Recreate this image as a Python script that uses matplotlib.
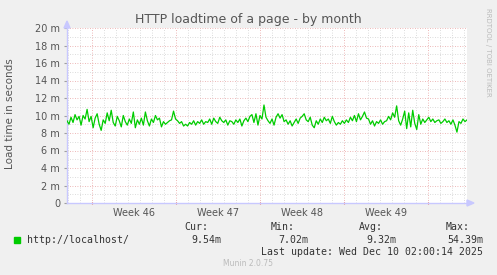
import numpy as np
import matplotlib
matplotlib.use("Agg")
import matplotlib.pyplot as plt
from matplotlib.ticker import FixedLocator
from matplotlib.transforms import blended_transform_factory

# load time in milliseconds, one value roughly every 2 px of the graph
load_ms = [
    9.4, 9.0, 9.8, 9.2, 10.1, 9.5, 9.9, 8.9, 10.0, 9.6,
    10.7, 9.3, 9.9, 8.6, 9.7, 10.2, 9.0, 8.3, 9.5, 9.1,
    10.3, 9.4, 10.6, 9.2, 8.8, 9.9, 9.4, 8.7, 10.0, 9.3,
    8.9, 9.6, 9.1, 10.4, 8.6, 9.5, 9.0, 9.7, 8.9, 10.4,
    9.4, 8.8, 9.6, 9.2, 10.0, 9.5, 9.7, 8.7, 9.3, 9.0,
    9.2, 9.4, 9.5, 10.5, 9.6, 9.4, 9.1, 9.3, 8.8, 9.0,
    8.8, 9.2, 9.0, 9.4, 8.9, 9.3, 9.1, 9.5, 9.0, 9.3,
    9.2, 9.6, 9.0, 9.7, 9.3, 9.1, 9.8, 9.4, 9.2, 9.5,
    8.9, 9.4, 9.3, 9.0, 9.5, 9.2, 9.6, 8.8, 9.4, 9.7,
    9.3, 9.9, 10.1, 9.2, 10.2, 8.9, 10.0, 9.6, 11.2, 9.8,
    9.4, 9.1, 9.6, 8.9, 9.8, 10.2, 9.7, 10.1, 9.3, 9.5,
    9.0, 9.4, 8.8, 9.2, 9.6, 9.1, 9.7, 9.9, 10.2, 9.5,
    9.3, 9.8, 8.9, 8.6, 9.4, 9.0, 9.6, 9.2, 9.8, 9.4,
    9.6, 9.1, 9.9, 9.3, 8.9, 9.2, 9.0, 9.4, 9.1, 9.5,
    9.2, 9.8, 9.4, 10.0, 9.3, 10.2, 9.5, 9.9, 10.4, 9.7,
    9.6, 9.0, 9.4, 8.8, 9.3, 9.1, 9.5, 9.0, 9.3, 9.4,
    9.9, 9.5, 10.3, 9.8, 11.1, 9.4, 8.9, 9.6, 10.5, 8.5,
    10.3, 8.7, 10.6, 9.1, 8.4, 10.1, 9.0, 9.6, 9.2, 9.5,
    9.8, 9.3, 9.6, 9.2, 9.4, 9.5, 9.1, 9.3, 9.6, 9.2,
    9.4, 9.0, 9.5, 8.9, 8.1, 9.3, 9.1, 9.6, 9.3, 9.5,
]

week_labels = ["Week 46", "Week 47", "Week 48", "Week 49"]
span_days = 400 / 12.0
first_week = 25 / 12.0
week_lines = [first_week + 7 * k for k in range(5)]

y_ticks = list(range(0, 21, 2))
y_tick_labels = ["0"] + [f"{v} m" for v in y_ticks[1:]]

legend_name = "http://localhost/"
stat_names = ["Cur:", "Min:", "Avg:", "Max:"]
stat_values = ["9.54m", "7.02m", "9.32m", "54.39m"]
last_update = "Last update: Wed Dec 10 02:00:14 2025"

W, H = 497, 275
BG = "#F0F0F0"
GREEN = "#00CC00"
AXIS = "#C8C8FF"
TXT = "#555555"


def fx(px):
    return px / W


def fy(py):
    return 1 - py / H


fig = plt.figure(figsize=(W / 100, H / 100), dpi=100, facecolor=BG)
ax = fig.add_axes([fx(67), fy(203), fx(467) - fx(67), fy(28) - fy(203)])
ax.set_facecolor("white")

x = np.linspace(0, span_days, len(load_ms))
ax.plot(x, load_ms, color=GREEN, lw=0.9, zorder=3)

ax.set_xlim(0, span_days)
ax.set_ylim(0, 20)

# grid: gray minor, red major
for d in np.arange(first_week - 2, span_days, 1.0):
    if min(abs(d - w) for w in week_lines) > 0.01 and d > 0.01:
        ax.axvline(d, color="#D0D0D0", lw=0.6, ls=(0, (1, 2)), zorder=1)
for w in week_lines:
    ax.axvline(w, color="#E8A0A0", lw=0.6, ls=(0, (1, 2)), zorder=1)
for v in range(1, 21, 2):
    ax.axhline(v, color="#D0D0D0", lw=0.6, ls=(0, (1, 2)), zorder=1)
for v in y_ticks[1:]:
    ax.axhline(v, color="#E8A0A0", lw=0.6, ls=(0, (1, 2)), zorder=1)

for s in ["top", "right"]:
    ax.spines[s].set_visible(False)
ax.spines["left"].set_color(AXIS)
ax.spines["bottom"].set_color(AXIS)
ax.spines["left"].set_linewidth(1.0)
ax.spines["bottom"].set_linewidth(1.0)

ax.yaxis.set_major_locator(FixedLocator(y_ticks))
ax.set_yticklabels(y_tick_labels)
ax.tick_params(axis="y", length=2, color="#A0A0A0", labelsize=7, labelcolor=TXT, pad=3)
ax.xaxis.set_major_locator(FixedLocator(week_lines))
ax.set_xticklabels([])
ax.tick_params(axis="x", length=2, color="#E06060", direction="inout")

trans = blended_transform_factory(ax.transData, fig.transFigure)
for i, lab in enumerate(week_labels):
    ax.text((week_lines[i] + week_lines[i + 1]) / 2, fy(213), lab, transform=trans,
            ha="center", va="center", fontsize=7, color=TXT)

# axis arrows
fig.patches.append(plt.Polygon([[fx(64), fy(28)], [fx(70), fy(28)], [fx(67), fy(21)]],
                               closed=True, color=AXIS, transform=fig.transFigure))
fig.patches.append(plt.Polygon([[fx(467), fy(200)], [fx(467), fy(206)], [fx(474), fy(203)]],
                               closed=True, color=AXIS, transform=fig.transFigure))

fig.text(fx(248), fy(19), "HTTP loadtime of a page - by month", ha="center", va="center",
         fontsize=9, color=TXT)
fig.text(fx(10), fy(114), "Load time in seconds", rotation=90, ha="center", va="center",
         fontsize=7.5, color=TXT)
fig.text(fx(488), fy(52), "RRDTOOL / TOBI OETIKER", rotation=270, ha="center", va="center",
         fontsize=5, color="#BBBBBB")

# legend
fig.patches.append(plt.Rectangle((fx(14), fy(243)), fx(6), fy(237) - fy(243), color=GREEN,
                                 transform=fig.transFigure))
mono = dict(family="DejaVu Sans Mono", fontsize=7.1, color="#333333", va="center")
fig.text(fx(27), fy(240), legend_name, ha="left", **mono)
stat_right = [208, 295, 383, 470]
val_right = [221, 308, 396, 483]
for name, val, xr, vr in zip(stat_names, stat_values, stat_right, val_right):
    fig.text(fx(xr), fy(227), name, ha="right", **mono)
    fig.text(fx(vr), fy(240), val, ha="right", **mono)
fig.text(fx(483), fy(252), last_update, ha="right", **mono)
fig.text(fx(248), fy(263), "Munin 2.0.75", ha="center", va="center", fontsize=5.5, color="#BBBBBB")

fig.savefig("out.png", dpi=100, facecolor=BG)
